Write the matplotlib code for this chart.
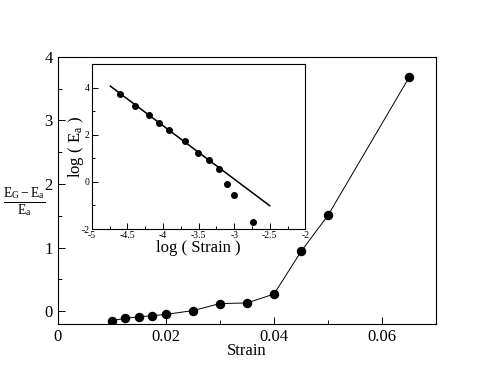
import matplotlib
matplotlib.use("Agg")
import matplotlib.pyplot as plt
from matplotlib.ticker import MultipleLocator

plt.rcParams['font.family'] = ['Liberation Serif', 'DejaVu Serif']
plt.rcParams['mathtext.fontset'] = 'custom'
plt.rcParams['mathtext.rm'] = 'Liberation Serif'
plt.rcParams['mathtext.it'] = 'Liberation Serif:italic'

# Main data
strain = [0.01, 0.0125, 0.015, 0.0175, 0.02, 0.025, 0.03, 0.035, 0.04, 0.045, 0.05, 0.065]
rel_energy = [-0.15, -0.11, -0.09, -0.07, -0.05, 0.01, 0.12, 0.13, 0.27, 0.94, 1.51, 3.68]

# Inset data
log_strain = [-4.61, -4.39, -4.20, -4.05, -3.91, -3.69, -3.51, -3.35, -3.22, -3.10, -3.00, -2.74]
log_Ea = [3.73, 3.23, 2.85, 2.52, 2.22, 1.72, 1.25, 0.93, 0.56, -0.09, -0.57, -1.72]
fit_x = [-4.74, -2.50]
fit_y = [4.07, -1.01]

fig = plt.figure(figsize=(4.94, 3.82), dpi=100)
ax = fig.add_axes([0.117, 0.152, 0.766, 0.699])
ax.plot(strain, rel_energy, color='black', lw=0.7, marker='o', ms=5.8)
ax.set_xlim(0, 0.07)
ax.set_ylim(-0.2, 4.0)
ax.xaxis.set_minor_locator(MultipleLocator(0.01))
ax.yaxis.set_major_locator(MultipleLocator(1))
ax.yaxis.set_minor_locator(MultipleLocator(0.5))
ax.set_xticks([0, 0.02, 0.04, 0.06])
ax.set_xticklabels(['0', '0.02', '0.04', '0.06'])
ax.tick_params(which='both', direction='in', top=False, right=False, labelsize=12)
ax.tick_params(which='major', length=5, width=0.7)
ax.tick_params(which='minor', length=3, width=0.7)
for s in ax.spines.values():
    s.set_linewidth(0.8)
ax.set_xlabel('Strain', fontsize=12, labelpad=-1)
fig.text(0.049, 0.472, r'$\frac{\mathrm{E}_{\mathrm{G}}-\mathrm{E}_{\mathrm{a}}}{\mathrm{E}_{\mathrm{a}}}$',
         fontsize=14, ha='center', va='center')

ins = fig.add_axes([0.186, 0.4005, 0.432, 0.4312])
ins.plot(fit_x, fit_y, color='black', lw=1.1)
ins.plot(log_strain, log_Ea, 'o', color='black', ms=4)
ins.set_xlim(-5, -2)
ins.set_ylim(-2, 5)
ins.xaxis.set_minor_locator(MultipleLocator(0.25))
ins.yaxis.set_minor_locator(MultipleLocator(1))
ins.set_xticks([-5, -4.5, -4, -3.5, -3, -2.5, -2])
ins.set_xticklabels(['-5', '-4.5', '-4', '-3.5', '-3', '-2.5', '-2'])
ins.set_yticks([-2, 0, 2, 4])
ins.set_yticklabels(['-2', '0', '2', '4'])
ins.tick_params(which='both', direction='in', top=False, right=False, labelsize=7, pad=1.5)
ins.tick_params(which='major', length=4, width=0.7)
ins.tick_params(which='minor', length=2.5, width=0.7)
for s in ins.spines.values():
    s.set_linewidth(0.8)
ins.set_xlabel('log ( Strain )', fontsize=12, labelpad=0)
ins.set_ylabel(r'log ( E$_{\mathrm{a}}$ )', fontsize=12, labelpad=-3)

fig.savefig('out.png', dpi=100)
